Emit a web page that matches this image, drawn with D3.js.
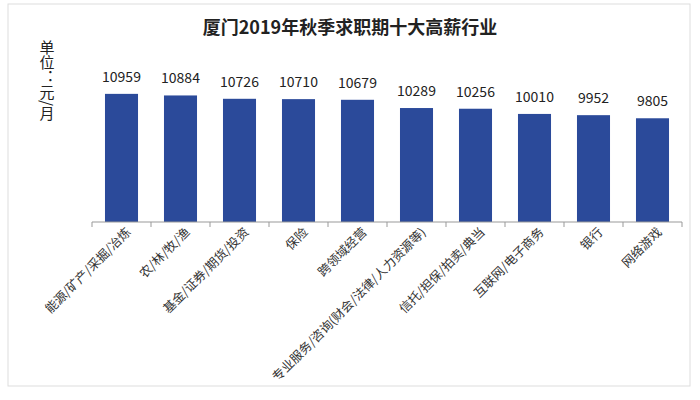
<!DOCTYPE html>
<html><head><meta charset="utf-8">
<script src="https://cdn.jsdelivr.net/npm/d3@7"></script>
<style>body{margin:0;background:#fff;font-family:"Noto Sans CJK SC",sans-serif}</style>
</head><body><div id="chart"></div>
<script>
var categories = ["能源/矿产/采掘/冶炼", "农/林/牧/渔", "基金/证券/期货/投资", "保险", "跨领域经营",
  "专业服务/咨询(财会/法律/人力资源等)", "信托/担保/拍卖/典当", "互联网/电子商务", "银行", "网络游戏"];
var salaries = [10959, 10884, 10726, 10710, 10679, 10289, 10256, 10010, 9952, 9805];
var unitLabel = "单位：元/月";

var svg = d3.select("#chart").append("svg").attr("width", 700).attr("height", 400);
svg.append("rect").attr("x", 8).attr("y", 4).attr("width", 682).attr("height", 382)
  .attr("fill", "#fff").attr("stroke", "#ddd");

var x = d3.scaleBand().domain(categories).range([92, 682]).paddingInner(0.44).paddingOuter(0.22);
var y = d3.scaleLinear().domain([4900, 11000]).range([222, 93]);

svg.append("text").attr("x", 350).attr("y", 34).attr("text-anchor", "middle")
  .style("font-size", "18px").style("font-weight", "bold").attr("fill", "#222")
  .text("厦门2019年秋季求职期十大高薪行业");

svg.append("text").attr("x", 47).attr("y", 40)
  .style("writing-mode", "vertical-rl").style("font-size", "15px").attr("fill", "#222").text(unitLabel);

svg.selectAll(".bar").data(salaries).enter().append("rect")
  .attr("x", (d, i) => x(categories[i])).attr("width", x.bandwidth())
  .attr("y", d => y(d)).attr("height", d => 222 - y(d)).attr("fill", "#2b4a9a");

svg.selectAll(".val").data(salaries).enter().append("text")
  .attr("x", (d, i) => x(categories[i]) + x.bandwidth() / 2).attr("y", d => y(d) - 12)
  .attr("text-anchor", "middle").style("font-size", "14px").attr("fill", "#222").text(d => d);

var n = categories.length;
svg.append("line").attr("x1", 92).attr("x2", 682).attr("y1", 222).attr("y2", 222).attr("stroke", "#999");
svg.selectAll(".tk").data(d3.range(n + 1)).enter().append("line")
  .attr("x1", i => 92 + i * (590 / n)).attr("x2", i => 92 + i * (590 / n))
  .attr("y1", 222).attr("y2", 227).attr("stroke", "#999");

svg.selectAll(".lbl").data(categories).enter().append("text")
  .attr("transform", d => `translate(${x(d) + x.bandwidth() / 2 + 10},${233}) rotate(-45)`)
  .attr("text-anchor", "end").style("font-size", "12.5px").attr("fill", "#333").text(d => d);
</script></body></html>
